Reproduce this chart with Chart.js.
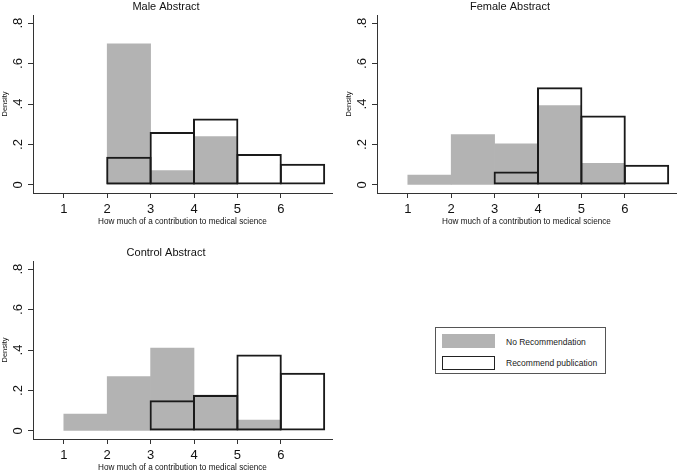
<!DOCTYPE html>
<html>
<head>
<meta charset="utf-8">
<script src="https://cdn.jsdelivr.net/npm/chart.js@4.4.0/dist/chart.umd.min.js"></script>
<style>
  html, body { margin: 0; padding: 0; background: #fff; }
  #page { position: relative; width: 678px; height: 473px; overflow: hidden; background: #fff; }
  canvas { position: absolute; }
  #legend { position: absolute; left: 435px; top: 327px; width: 171px; height: 47px; border: 1px solid #555; box-sizing: border-box; background: #fff; font-family: "Liberation Sans", Arial, Helvetica, sans-serif; font-size: 8.5px; color: #1a1a1a; }
  .sw { position: absolute; left: 6px; width: 53px; height: 14px; box-sizing: border-box; }
  .lbl { position: absolute; left: 70px; line-height: 12px; white-space: nowrap; }
</style>
</head>
<body>
<div id="page">
  <canvas id="male" width="365" height="236" style="left:0px;top:0px"></canvas>
  <canvas id="female" width="365" height="236" style="left:344px;top:0px"></canvas>
  <canvas id="control" width="365" height="236" style="left:0px;top:246px"></canvas>
  <div id="legend">
    <div class="sw" style="top:6px;background:#b3b3b3"></div>
    <div class="lbl" style="top:8px">No Recommendation</div>
    <div class="sw" style="top:28px;height:14px;border:1.5px solid #222;background:#fff"></div>
    <div class="lbl" style="top:29px">Recommend publication</div>
  </div>
</div>
<script>
// ---- data (density per score bin, bins [1,2),[2,3),...,[6,7)) ----
const binCenters = [1.5, 2.5, 3.5, 4.5, 5.5, 6.5];
const xTickValues = [1, 2, 3, 4, 5, 6];
const xTickLabels = ['1', '2', '3', '4', '5', '6'];
const yTickValues = [0, 0.2, 0.4, 0.6, 0.8];
const yTickLabels = ['0', '.2', '.4', '.6', '.8'];
const seriesNames = ['No Recommendation', 'Recommend publication'];
const panelTitles = ['Male Abstract', 'Female Abstract', 'Control Abstract'];
const xAxisTitle = 'How much of a contribution to medical science';
const yAxisTitle = 'Density';

const maleNoRec    = [null, 0.698, 0.071, 0.239, null, null];
const maleRec      = [null, 0.139, 0.262, 0.328, 0.153, 0.105];
const femaleNoRec  = [0.049, 0.249, 0.203, 0.392, 0.107, null];
const femaleRec    = [null, null, 0.066, 0.483, 0.343, 0.100];
const controlNoRec = [0.083, 0.269, 0.409, 0.177, 0.054, null];
const controlRec   = [null, null, 0.152, 0.177, 0.378, 0.287];

Chart.defaults.font.family = '"Liberation Sans", Arial, Helvetica, sans-serif';
Chart.defaults.color = '#1a1a1a';

function toPoints(vals) {
  return binCenters.map((x, i) => ({ x: x, y: vals[i] }));
}

function makeChart(id, title, noRec, rec) {
  const axisColor = '#333333';
  return new Chart(document.getElementById(id), {
    type: 'bar',
    data: {
      datasets: [
        {
          label: seriesNames[1],
          data: toPoints(rec),
          backgroundColor: 'rgba(0,0,0,0)',
          borderColor: '#1a1a1a',
          borderWidth: 2,
          borderSkipped: false,
          barPercentage: 1.046,
          categoryPercentage: 1,
          grouped: false,
          order: 1
        },
        {
          label: seriesNames[0],
          data: toPoints(noRec),
          backgroundColor: '#b3b3b3',
          borderWidth: 0,
          barPercentage: 1.0,
          categoryPercentage: 1,
          grouped: false,
          order: 2
        }
      ]
    },
    options: {
      responsive: false,
      animation: false,
      devicePixelRatio: 1,
      layout: { padding: { left: 0, right: 33, top: 0, bottom: 0 } },
      plugins: {
        legend: { display: false },
        tooltip: { enabled: false },
        title: {
          display: true,
          text: title,
          color: '#111',
          font: { size: 11, weight: 'normal' },
          padding: { top: 0, bottom: 1.8 }
        }
      },
      scales: {
        x: {
          type: 'linear',
          min: 0.29,
          max: 7.18,
          offset: false,
          afterBuildTicks: s => { s.ticks = xTickValues.map(v => ({ value: v })); },
          afterFit: s => { s.height = 43; },
          grid: { display: true, drawOnChartArea: false, drawTicks: true, tickLength: 5, color: axisColor, offset: false },
          border: { display: true, color: axisColor, width: 1 },
          ticks: {
            font: { size: 13 },
            color: '#111',
            padding: 4,
            maxRotation: 0,
            autoSkip: false,
            callback: (v, i) => xTickLabels[i]
          },
          title: {
            display: true,
            text: xAxisTitle,
            color: '#111',
            font: { size: 8.2 },
            padding: { top: 0, bottom: 9.2 }
          }
        },
        y: {
          type: 'linear',
          min: -0.04,
          max: 0.84,
          afterBuildTicks: s => { s.ticks = yTickValues.map(v => ({ value: v })); },
          afterFit: s => { s.width = 33; },
          grid: { display: true, drawOnChartArea: false, drawTicks: true, tickLength: 5, color: axisColor },
          border: { display: true, color: axisColor, width: 1 },
          ticks: {
            font: { size: 13 },
            color: '#111',
            padding: 4,
            minRotation: 90,
            maxRotation: 90,
            crossAlign: 'center',
            autoSkip: false,
            callback: (v, i) => yTickLabels[i]
          },
          title: {
            display: true,
            text: yAxisTitle,
            color: '#111',
            font: { size: 7.5 },
            padding: { top: 0.5, bottom: 0 }
          }
        }
      }
    }
  });
}

makeChart('male', panelTitles[0], maleNoRec, maleRec);
makeChart('female', panelTitles[1], femaleNoRec, femaleRec);
makeChart('control', panelTitles[2], controlNoRec, controlRec);
</script>
</body>
</html>
